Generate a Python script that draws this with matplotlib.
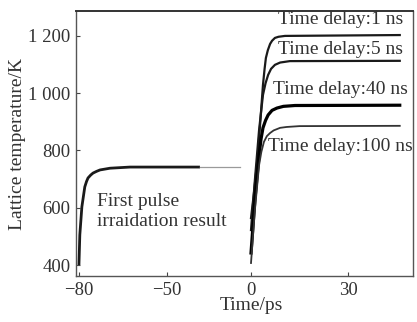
import numpy as np
import matplotlib
matplotlib.use("Agg")
import matplotlib.pyplot as plt

plt.rcParams['font.family'] = ['Liberation Serif', 'DejaVu Serif']

# ---- data ----
first_t = [-80, -79.7, -79, -78, -77.4, -76.9, -76, -75.2, -74, -72.8, -69.4, -62.6, -50, -30.4]
first_T = [400, 505, 603, 673, 692, 704, 714, 721, 727, 732, 738, 742, 742, 742]
first_tail_t = [-30.4, -6.5]
first_tail_T = [742, 742]

d1_t = [0, 0.9, 1.9, 2.8, 3.7, 4.2, 4.6, 5.2, 5.9, 6.5, 7.4, 8.5, 10.5, 46]
d1_T = [564, 650, 760, 889, 1029, 1085, 1123, 1150, 1172, 1183, 1193, 1197, 1200, 1203]
d5_t = [0, 1.2, 2.5, 3.7, 4.5, 5.3, 6.2, 7.4, 9, 12, 46]
d5_T = [522, 697, 872, 994, 1035, 1064, 1085, 1099, 1107, 1112, 1113]
d40_t = [0, 1.2, 2.5, 3.1, 3.7, 4.5, 5.3, 6.5, 8, 10, 13.6, 46]
d40_T = [442, 627, 784, 840, 879, 905, 924, 940, 948, 954, 957, 958]
d100_t = [0, 1.2, 2.5, 3.2, 4.0, 4.9, 5.9, 7, 9, 11, 15, 46]
d100_T = [407, 592, 749, 795, 830, 850, 861, 870, 879, 882, 885, 886]

xticks = [-80, -50, 0, 30]
yticks = [400, 600, 800, 1000, 1200]
ytick_labels = ['400', '600', '800', '1 000', '1 200']

# ---- broken-like piecewise x scale ----
bx = np.array([-80.0, -50.0, 0.0, 30.0])
bp = np.array([79.0, 167.0, 251.0, 348.0])

def fwd(x):
    x = np.asarray(x, dtype=float)
    y = np.interp(x, bx, bp)
    y = np.where(x < bx[0], bp[0] + (x - bx[0]) * 2.93, y)
    y = np.where(x > bx[-1], bp[-1] + (x - bx[-1]) * 3.23, y)
    return y

def inv(p):
    p = np.asarray(p, dtype=float)
    x = np.interp(p, bp, bx)
    x = np.where(p < bp[0], bx[0] + (p - bp[0]) / 2.93, x)
    x = np.where(p > bp[-1], bx[-1] + (p - bp[-1]) / 3.23, x)
    return x

W, H = 417, 322
fig = plt.figure(figsize=(W / 100, H / 100), dpi=100)
ax = fig.add_axes([76 / W, 1 - 276 / H, (413 - 76) / W, (276 - 11) / H])
ax.set_xscale('function', functions=(fwd, inv))

lc = '#1a1a1a'
ax.plot(first_t, first_T, color=lc, lw=2.0, solid_capstyle='butt')
ax.plot(first_tail_t, first_tail_T, color='#9a9a9a', lw=0.9)
ax.plot(d1_t, d1_T, color=lc, lw=1.6)
ax.plot(d5_t, d5_T, color=lc, lw=1.6)
ax.plot(d40_t, d40_T, color='#000000', lw=2.3)
ax.plot(d100_t, d100_T, color='#333333', lw=1.3)

ax.set_xlim(-81, 50.1)
ax.set_ylim(361.6, 1287)
ax.set_xticks(xticks)
ax.set_xticklabels(['\u221280', '\u221250', '0', '30'])
ax.set_yticks(yticks)
ax.set_yticklabels(ytick_labels)
ax.tick_params(direction='in', length=3, width=0.8, colors='#444444',
               labelsize=13.5, labelcolor='#333333', pad=4)
for s in ax.spines.values():
    s.set_color('#555555')
    s.set_linewidth(1.0)
ax.spines['top'].set_linewidth(1.4)
ax.spines['top'].set_color('#333333')

tc = '#333333'
fs = 14
fig.text(18 / W, 1 - 144 / H, 'Lattice temperature/K', rotation=90,
         ha='center', va='center', fontsize=fs, color=tc)
fig.text(251 / W, 1 - 306 / H, 'Time/ps', ha='center', va='center',
         fontsize=fs, color=tc)

fig.text(341 / W, 1 - 20 / H, 'Time delay:1 ns', ha='center', va='center',
         fontsize=fs, color=tc)
fig.text(341 / W, 1 - 50 / H, 'Time delay:5 ns', ha='center', va='center',
         fontsize=fs, color=tc)
fig.text(340 / W, 1 - 90 / H, 'Time delay:40 ns', ha='center', va='center',
         fontsize=fs, color=tc)
fig.text(340 / W, 1 - 146 / H, 'Time delay:100 ns', ha='center', va='center',
         fontsize=fs, color=tc)
fig.text(97 / W, 1 - 202 / H, 'First pulse', ha='left', va='center',
         fontsize=fs, color=tc)
fig.text(97 / W, 1 - 222 / H, 'irraidation result', ha='left', va='center',
         fontsize=fs, color=tc)

fig.savefig('out.png', dpi=100, facecolor='white')
